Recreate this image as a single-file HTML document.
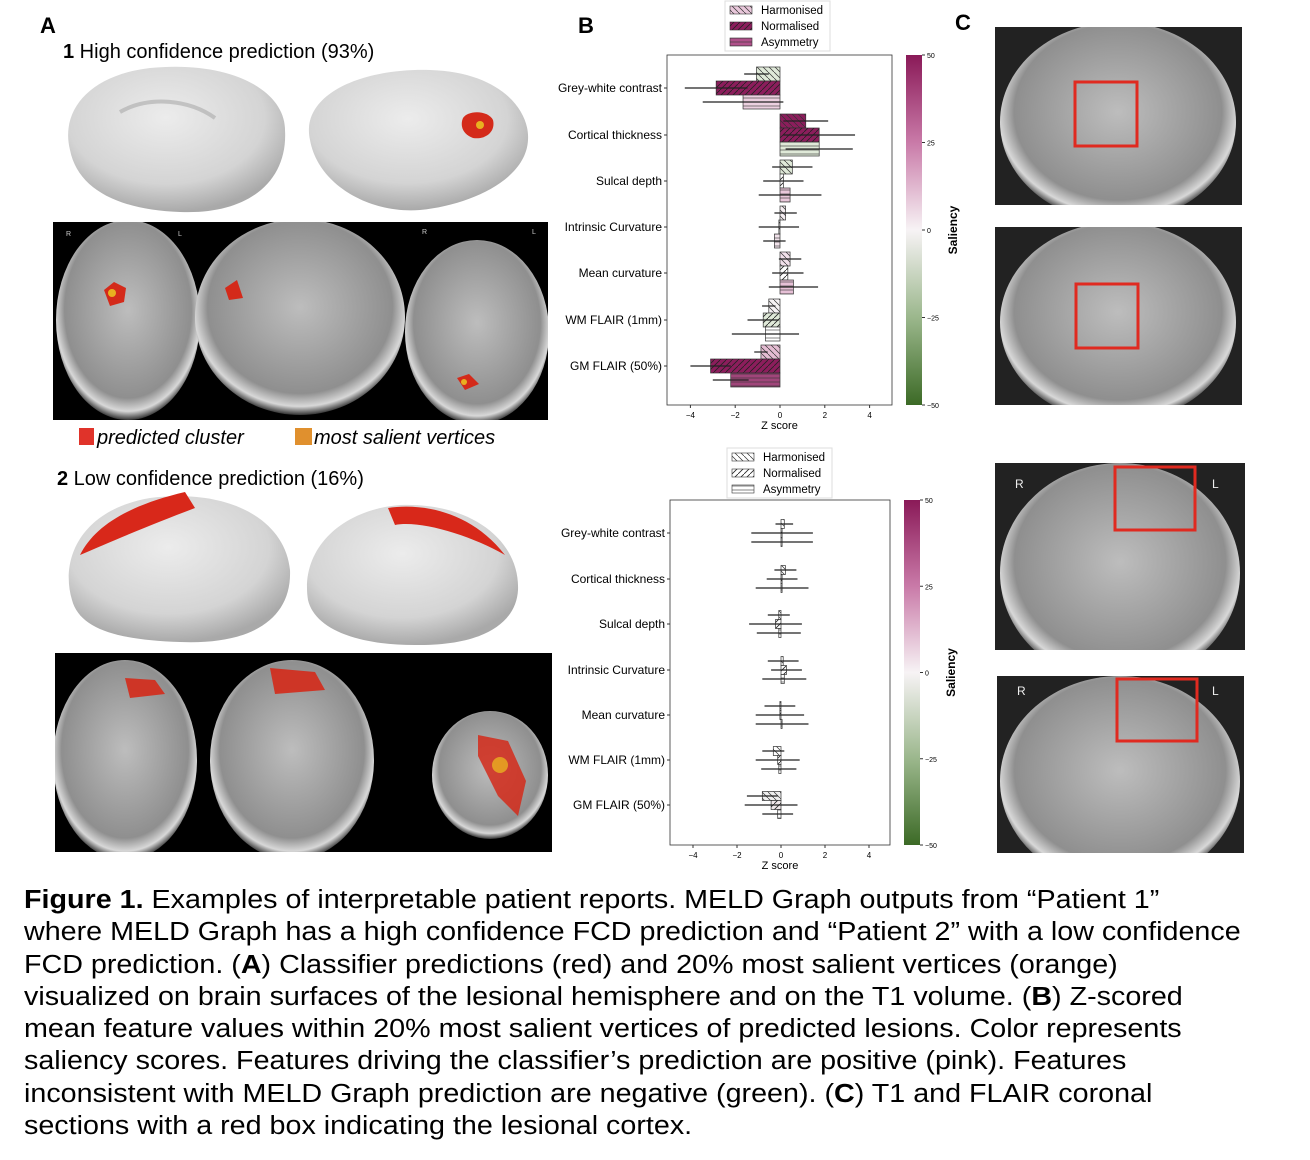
<!DOCTYPE html>
<html><head><meta charset="utf-8"><style>
body{margin:0;background:#fff;width:1310px;height:1160px;overflow:hidden;font-family:"Liberation Sans",Arial,sans-serif}
.cap{position:absolute;left:24px;font-size:25.5px;line-height:32.3px;top:884px;white-space:nowrap;color:#000;transform:scaleX(1.125);transform-origin:0 0}
</style></head><body>
<svg width="1310" height="870" style="position:absolute;left:0;top:0" font-family="Liberation Sans, Arial, sans-serif">
<defs>
<radialGradient id="bg" cx="45%" cy="35%" r="65%"><stop offset="0" stop-color="#ececec"/><stop offset="0.7" stop-color="#d4d4d4"/><stop offset="1" stop-color="#a9a9a9"/></radialGradient>
<radialGradient id="mri" cx="50%" cy="45%" r="55%"><stop offset="0" stop-color="#bdbdbd"/><stop offset="0.8" stop-color="#8f8f8f"/><stop offset="0.92" stop-color="#d8d8d8"/><stop offset="1" stop-color="#333"/></radialGradient>
<linearGradient id="cb" x1="0" y1="0" x2="0" y2="1"><stop offset="0" stop-color="#8a1a58"/><stop offset="0.25" stop-color="#c97aa8"/><stop offset="0.5" stop-color="#f7f3f5"/><stop offset="0.75" stop-color="#9bb78c"/><stop offset="1" stop-color="#3c6a26"/></linearGradient>
<pattern id="hd" width="6" height="6" patternUnits="userSpaceOnUse"><path d="M0,0 L6,6" stroke="#333" stroke-width="0.7"/></pattern>
<pattern id="hn" width="6" height="6" patternUnits="userSpaceOnUse"><path d="M0,6 L6,0" stroke="#222" stroke-width="0.8"/></pattern>
<pattern id="hh" width="4" height="4" patternUnits="userSpaceOnUse"><path d="M0,2 L4,2" stroke="#333" stroke-width="0.6"/></pattern>
</defs>
<text x="40" y="33" font-size="22" font-weight="bold">A</text>
<text x="63" y="58" font-size="20"><tspan font-weight="bold">1</tspan> High confidence prediction (93%)</text>
<path d="M70,150 C60,110 90,75 150,68 C230,60 285,90 285,130 C288,180 250,215 180,212 C120,210 78,190 70,150Z" fill="url(#bg)"/>
<path d="M120,112 C150,95 190,100 215,118" stroke="#aaa" stroke-width="4" fill="none" opacity="0.6"/>
<path d="M310,140 C300,95 360,68 430,70 C500,72 530,110 528,140 C526,180 470,205 420,210 C370,214 318,185 310,140Z" fill="url(#bg)"/>
<path d="M463,118 C468,110 488,110 493,120 C496,132 485,140 473,138 C462,134 460,125 463,118Z" fill="#d42a1a"/>
<circle cx="480" cy="125" r="4" fill="#e8b020"/>
<svg x="53" y="222" width="495" height="198"><rect width="495" height="198" fill="#000"/>
<ellipse cx="75" cy="98" rx="72" ry="100" fill="url(#mri)"/>
<ellipse cx="247" cy="95" rx="105" ry="98" fill="url(#mri)"/>
<ellipse cx="424" cy="110" rx="72" ry="92" fill="url(#mri)"/>
<path d="M51,68 l10,-8 12,6 -2,14 -14,4z" fill="#d42a1a"/><circle cx="59" cy="71" r="4" fill="#e8b020"/>
<path d="M172,66 l12,-8 6,18 -14,2z" fill="#d42a1a"/>
<path d="M404,156 l12,-4 10,10 -14,6z" fill="#d42a1a"/><circle cx="411" cy="160" r="3" fill="#e8b020"/>
<text x="13" y="14" font-size="7" fill="#ccc">R</text><text x="125" y="14" font-size="7" fill="#ccc">L</text>
<text x="369" y="12" font-size="7" fill="#ccc">R</text><text x="479" y="12" font-size="7" fill="#ccc">L</text></svg>
<rect x="79" y="428" width="15" height="17" fill="#e0332a"/>
<text x="97" y="444" font-size="20" font-style="italic">predicted cluster</text>
<rect x="295" y="428" width="17" height="17" fill="#e0902e"/>
<text x="314" y="444" font-size="20" font-style="italic">most salient vertices</text>
<path d="M72,600 C60,560 80,510 150,498 C230,488 285,520 290,570 C292,620 250,645 180,642 C120,640 80,630 72,600Z" fill="url(#bg)"/>
<path d="M80,555 C95,525 130,505 185,492 L195,508 C150,525 110,542 80,555Z" fill="#d8281a"/>
<path d="M308,600 C300,550 340,510 400,505 C470,502 520,540 518,590 C516,625 480,645 420,645 C360,646 315,630 308,600Z" fill="url(#bg)"/>
<path d="M388,508 C420,503 470,510 505,555 C470,535 420,520 395,525Z" fill="#d8281a"/>
<text x="57" y="485" font-size="20"><tspan font-weight="bold">2</tspan> Low confidence prediction (16%)</text>
<svg x="55" y="653" width="497" height="199"><rect width="497" height="199" fill="#000"/>
<ellipse cx="70" cy="107" rx="72" ry="100" fill="url(#mri)"/>
<ellipse cx="237" cy="107" rx="82" ry="100" fill="url(#mri)"/>
<ellipse cx="435" cy="122" rx="58" ry="64" fill="url(#mri)"/>
<path d="M70,25 l30,2 10,14 -35,4z" fill="#d42a1a" opacity="0.9"/>
<path d="M215,15 l45,4 10,18 -50,4z" fill="#d42a1a" opacity="0.9"/>
<path d="M423,82 l30,6 18,40 -8,35 -20,-20 -20,-40z" fill="#d42a1a" opacity="0.85"/>
<circle cx="445" cy="112" r="8" fill="#e8b020" opacity="0.8"/></svg>
<text x="578" y="33" font-size="22" font-weight="bold">B</text>
<text x="955" y="30" font-size="22" font-weight="bold">C</text>
<g id="charts"></g>
<svg x="995" y="27" width="247" height="178"><rect width="247" height="178" fill="#222"/><ellipse cx="123" cy="95" rx="118" ry="100" fill="url(#mri)"/></svg>
<svg x="995" y="227" width="247" height="178"><rect width="247" height="178" fill="#222"/><ellipse cx="123" cy="95" rx="118" ry="100" fill="url(#mri)"/></svg>
<svg x="995" y="463" width="250" height="187"><rect width="250" height="187" fill="#222"/><ellipse cx="125" cy="110" rx="120" ry="110" fill="url(#mri)"/></svg>
<svg x="997" y="676" width="247" height="177"><rect width="247" height="177" fill="#222"/><ellipse cx="123" cy="105" rx="120" ry="105" fill="url(#mri)"/></svg>
<g fill="none" stroke="#e02a20" stroke-width="3">
<rect x="1075" y="82" width="62" height="64"/><rect x="1076" y="284" width="62" height="64"/>
<rect x="1115" y="467" width="80" height="63"/><rect x="1117" y="679" width="80" height="62"/></g>
<text x="1015" y="488" font-size="12" fill="#eee">R</text><text x="1212" y="488" font-size="12" fill="#eee">L</text>
<text x="1017" y="695" font-size="12" fill="#eee">R</text><text x="1212" y="695" font-size="12" fill="#eee">L</text>
</svg>
<script>
function chart(o){
 var s='';
 var L=o.x0,R=o.x1,T=o.y0,B=o.y1,z=o.zero,u=o.unit;
 s+='<rect x="'+(o.lx)+'" y="'+o.ly+'" width="105" height="50" fill="#fff" stroke="#ddd"/>';
 var ln=['Harmonised','Normalised','Asymmetry'],pt=['hd','hn','hh'];
 for(var i=0;i<3;i++){var yy=o.ly+5+i*16;
  s+='<rect x="'+(o.lx+5)+'" y="'+yy+'" width="22" height="8" fill="'+o.lc[i]+'" stroke="#333" stroke-width="0.6"/><rect x="'+(o.lx+5)+'" y="'+yy+'" width="22" height="8" fill="url(#'+pt[i]+')"/>';
  s+='<text x="'+(o.lx+36)+'" y="'+(yy+8)+'" font-size="11.5">'+ln[i]+'</text>';}
 s+='<rect x="'+L+'" y="'+T+'" width="'+(R-L)+'" height="'+(B-T)+'" fill="#fff" stroke="#333" stroke-width="0.8"/>';
 var names=['Grey-white contrast','Cortical thickness','Sulcal depth','Intrinsic Curvature','Mean curvature','WM FLAIR (1mm)','GM FLAIR (50%)'];
 for(var r=0;r<7;r++){var c=o.rows[r];
  s+='<text x="'+(L-5)+'" y="'+(c+4)+'" font-size="12" text-anchor="end">'+names[r]+'</text><line x1="'+(L-3)+'" x2="'+L+'" y1="'+c+'" y2="'+c+'" stroke="#333"/>';
  for(var k=0;k<3;k++){var d=o.data[r][k],v=d[0],y=c-o.bh*1.5+k*o.bh;
   var x=v<0?z+v*u:z,w=Math.abs(v*u)||1;
   s+='<rect x="'+x+'" y="'+y+'" width="'+w+'" height="'+o.bh+'" fill="'+d[1]+'" stroke="#333" stroke-width="0.7"/><rect x="'+x+'" y="'+y+'" width="'+w+'" height="'+o.bh+'" fill="url(#'+pt[k]+')"/>';
   var e=d[2];s+='<line x1="'+(z+(v-e)*u)+'" x2="'+(z+(v+e)*u)+'" y1="'+(y+o.bh/2)+'" y2="'+(y+o.bh/2)+'" stroke="#222" stroke-width="1.2"/>';
  }}
 [-4,-2,0,2,4].forEach(function(t){var x=z+t*u;s+='<line x1="'+x+'" x2="'+x+'" y1="'+B+'" y2="'+(B+3)+'" stroke="#333"/><text x="'+x+'" y="'+(B+13)+'" font-size="8" text-anchor="middle">'+(t<0?'\u2212'+(-t):t)+'</text>';});
 s+='<text x="'+((L+R)/2)+'" y="'+(B+24)+'" font-size="11" text-anchor="middle">Z score</text>';
 var cx=o.cbx;s+='<rect x="'+cx+'" y="'+T+'" width="16" height="'+(B-T)+'" fill="url(#cb)"/>';
 [50,25,0,-25,-50].forEach(function(t,i){var y=T+i*(B-T)/4;s+='<line x1="'+(cx+16)+'" x2="'+(cx+19)+'" y1="'+y+'" y2="'+y+'" stroke="#333"/><text x="'+(cx+21)+'" y="'+(y+3)+'" font-size="7">'+(t<0?'\u2212'+(-t):t)+'</text>';});
 s+='<text transform="translate('+(cx+51)+','+((T+B)/2)+') rotate(-90)" font-size="12" font-weight="bold" text-anchor="middle">Saliency</text>';
 return s;}
var M='#8c1d5c',G='#dfe9d8',W='#ffffff';
var c1=chart({x0:667,x1:892,y0:55,y1:405,zero:780,unit:22.4,bh:14,lx:725,ly:1,lc:['#e8c7da',M,'#b0508a'],cbx:906,
 rows:[88,135,181,227,273,320,366],
 data:[[[-1.05,G,0.55],[-2.85,M,1.4],[-1.65,'#ecd0e0',1.8]],
 [[1.15,M,1],[1.75,M,1.6],[1.75,G,1.5]],
 [[0.55,G,0.9],[0.15,W,0.9],[0.45,'#e9c7da',1.4]],
 [[0.25,'#f6eef2',0.5],[-0.05,W,0.9],[-0.25,'#f1e2ea',0.5]],
 [[0.45,'#f1e0ea',0.5],[0.35,W,0.7],[0.6,'#e6c0d6',1.1]],
 [[-0.5,'#f6f2f4',0.3],[-0.75,G,0.7],[-0.65,W,1.5]],
 [[-0.85,'#e4bcd2',0.3],[-3.1,M,0.9],[-2.2,'#a0457a',0.8]]]});
var c2=chart({x0:670,x1:890,y0:500,y1:845,zero:781,unit:22,bh:9,lx:727,ly:448,lc:[W,W,W],cbx:904,
 rows:[533,579,624,670,715,760,805],
 data:[[[0.15,W,0.4],[0.05,W,1.4],[0.05,W,1.4]],
 [[0.2,W,0.5],[0.05,W,0.7],[0.05,W,1.2]],
 [[-0.1,W,0.5],[-0.25,W,1.2],[-0.1,W,1]],
 [[0.1,W,0.7],[0.25,W,0.7],[0.15,W,1]],
 [[-0.05,W,0.7],[-0.05,W,1.1],[0.05,W,1.2]],
 [[-0.35,W,0.5],[-0.15,W,1],[-0.1,W,0.8]],
 [[-0.85,'#eeeeee',0.7],[-0.45,'#f0e8ea',1.2],[-0.15,W,0.7]]]});
document.getElementById('charts').innerHTML=c1+c2;
</script>
<div class="cap"><b>Figure 1.</b> Examples of interpretable patient reports. MELD Graph outputs from “Patient 1”<br>where MELD Graph has a high confidence FCD prediction and “Patient 2” with a low confidence<br>FCD prediction. (<b>A</b>) Classifier predictions (red) and 20% most salient vertices (orange)<br>visualized on brain surfaces of the lesional hemisphere and on the T1 volume. (<b>B</b>) Z-scored<br>mean feature values within 20% most salient vertices of predicted lesions. Color represents<br>saliency scores. Features driving the classifier’s prediction are positive (pink). Features<br>inconsistent with MELD Graph prediction are negative (green). (<b>C</b>) T1 and FLAIR coronal<br>sections with a red box indicating the lesional cortex.</div>
</body></html>
